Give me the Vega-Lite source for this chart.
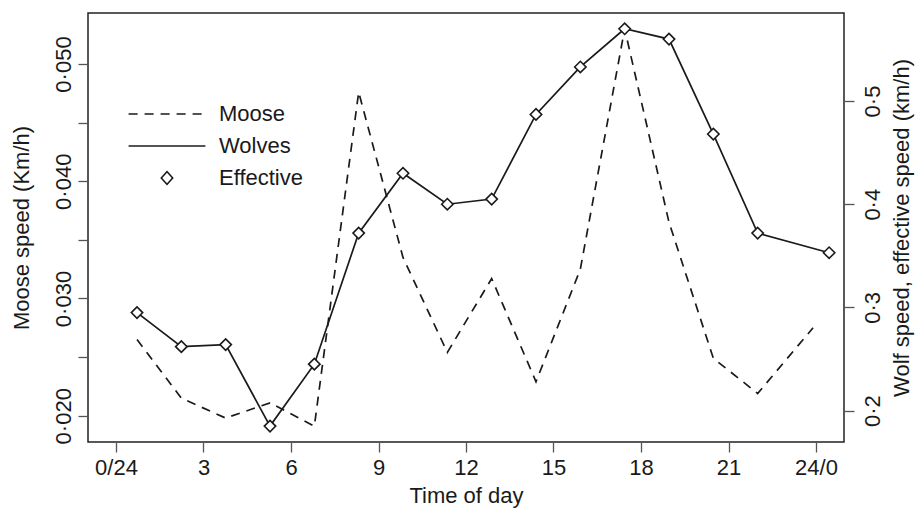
{
  "$schema": "https://vega.github.io/schema/vega-lite/v6.json",
  "autosize": {"type": "none"},
  "padding": {"left": 88, "top": 13, "right": 73, "bottom": 74},
  "width": 756,
  "height": 429,
  "background": "white",
  "config": {
    "font": "Liberation Sans",
    "view": {"stroke": "#222222", "strokeWidth": 1.5},
    "axis": {
      "domain": false,
      "grid": false,
      "tickColor": "#555555",
      "tickWidth": 1.3,
      "tickSize": 10,
      "labelFont": "Liberation Sans",
      "labelFontSize": 22,
      "labelColor": "#1a1a1a",
      "titleFont": "Liberation Sans",
      "titleFontSize": 22,
      "titleFontWeight": "normal",
      "titleColor": "#1a1a1a",
      "labelOverlap": false,
      "labelBound": false,
      "labelFlush": false
    },
    "legend": {
      "symbolStrokeColor": "#1a1a1a",
      "symbolStrokeWidth": 1.6,
      "symbolOpacity": 1
    }
  },
  "datasets": {
    "moose": [
      {"hour": 0.72, "speed": 0.0265, "series": "Moose"},
      {"hour": 2.24, "speed": 0.0215, "series": "Moose"},
      {"hour": 3.76, "speed": 0.0198, "series": "Moose"},
      {"hour": 5.28, "speed": 0.0211, "series": "Moose"},
      {"hour": 6.8, "speed": 0.0191, "series": "Moose"},
      {"hour": 8.32, "speed": 0.0476, "series": "Moose"},
      {"hour": 9.84, "speed": 0.0335, "series": "Moose"},
      {"hour": 11.36, "speed": 0.0254, "series": "Moose"},
      {"hour": 12.88, "speed": 0.0317, "series": "Moose"},
      {"hour": 14.4, "speed": 0.0229, "series": "Moose"},
      {"hour": 15.92, "speed": 0.0325, "series": "Moose"},
      {"hour": 17.44, "speed": 0.0530, "series": "Moose"},
      {"hour": 18.96, "speed": 0.0365, "series": "Moose"},
      {"hour": 20.48, "speed": 0.0249, "series": "Moose"},
      {"hour": 22.0, "speed": 0.0219, "series": "Moose"},
      {"hour": 23.9, "speed": 0.0275, "series": "Moose"}
    ],
    "wolves": [
      {"hour": 0.72, "speed": 0.295},
      {"hour": 2.24, "speed": 0.262},
      {"hour": 3.76, "speed": 0.264},
      {"hour": 5.28, "speed": 0.185},
      {"hour": 6.8, "speed": 0.245},
      {"hour": 8.32, "speed": 0.372},
      {"hour": 9.84, "speed": 0.430},
      {"hour": 11.36, "speed": 0.400},
      {"hour": 12.88, "speed": 0.405},
      {"hour": 14.4, "speed": 0.487},
      {"hour": 15.92, "speed": 0.533},
      {"hour": 17.44, "speed": 0.570},
      {"hour": 18.96, "speed": 0.560},
      {"hour": 20.48, "speed": 0.468},
      {"hour": 22.0, "speed": 0.372},
      {"hour": 24.45, "speed": 0.353}
    ]
  },
  "layer": [
    {
      "data": {"name": "moose"},
      "mark": {"type": "line", "color": "#1a1a1a", "strokeWidth": 1.7},
      "encoding": {
        "x": {
          "field": "hour", "type": "quantitative",
          "scale": {"domain": [-0.96, 24.96], "nice": false, "zero": false},
          "axis": {
            "values": [0, 3, 6, 9, 12, 15, 18, 21, 24],
            "labelExpr": "datum.value == 0 ? '0/24' : (datum.value == 24 ? '24/0' : datum.label)",
            "labelPadding": 5,
            "title": "Time of day",
            "titlePadding": 7
          }
        },
        "y": {
          "field": "speed", "type": "quantitative",
          "scale": {"domain": [0.01776, 0.05435], "nice": false, "zero": false},
          "axis": {
            "orient": "left",
            "values": [0.02, 0.025, 0.03, 0.035, 0.04, 0.045, 0.05],
            "labelExpr": "(round(datum.value * 1000) % 10 == 0) ? replace(format(datum.value, '.3f'), '.', '·') : ''",
            "labelAngle": 270,
            "labelAlign": "center",
            "labelBaseline": "alphabetic",
            "labelPadding": 8,
            "title": "Moose speed (Km/h)",
            "titleAngle": 270,
            "titlePadding": 19
          }
        },
        "strokeDash": {
          "field": "series",
          "type": "nominal",
          "scale": {"domain": ["Moose", "Wolves", "Effective"], "range": [[9, 7], [1, 0], [1, 0]]},
          "legend": {
            "title": " ",
            "titleFontSize": 12,
            "titlePadding": 10,
            "orient": "top-left",
            "offset": 68,
            "symbolType": "M-6.4,0H6.4",
            "symbolSize": 144,
            "symbolStrokeColor": "#1a1a1a",
            "symbolStrokeWidth": 1.6,
            "labelFont": "Liberation Sans",
            "labelFontSize": 22,
            "labelColor": "#1a1a1a",
            "labelOffset": 41,
            "rowPadding": 10,
            "encode": {
              "symbols": {
                "update": {
                  "shape": {"signal": "datum.value === 'Effective' ? 'M-0.95,0L0,-1.05L0.95,0L0,1.05Z' : 'M-6.4,0H6.4'"},
                  "fill": {"signal": "datum.value === 'Effective' ? 'white' : 'transparent'"},
                  "stroke": {"value": "#1a1a1a"},
                  "strokeWidth": {"value": 1.6}
                }
              }
            }
          }
        }
      }
    },
    {
      "data": {"name": "wolves"},
      "encoding": {
        "x": {"field": "hour", "type": "quantitative", "scale": {"domain": [-0.96, 24.96], "nice": false, "zero": false}},
        "y": {
          "field": "speed", "type": "quantitative",
          "scale": {"domain": [0.1696, 0.5853], "nice": false, "zero": false},
          "axis": {
            "orient": "right",
            "values": [0.2, 0.3, 0.4, 0.5],
            "labelExpr": "replace(format(datum.value, '.1f'), '.', '·')",
            "labelAngle": 270,
            "labelAlign": "center",
            "labelBaseline": "top",
            "labelPadding": 8,
            "title": "Wolf speed, effective speed (km/h)",
            "titleAngle": 270,
            "titleBaseline": "top",
            "titlePadding": 8
          }
        }
      },
      "layer": [
        {"mark": {"type": "line", "color": "#1a1a1a", "strokeWidth": 1.7}},
        {
          "mark": {"type": "point", "shape": "diamond", "size": 130, "filled": true, "fill": "white", "stroke": "#1a1a1a", "strokeWidth": 1.6, "opacity": 1}
        }
      ]
    }
  ],
  "resolve": {"scale": {"y": "independent"}}
}
